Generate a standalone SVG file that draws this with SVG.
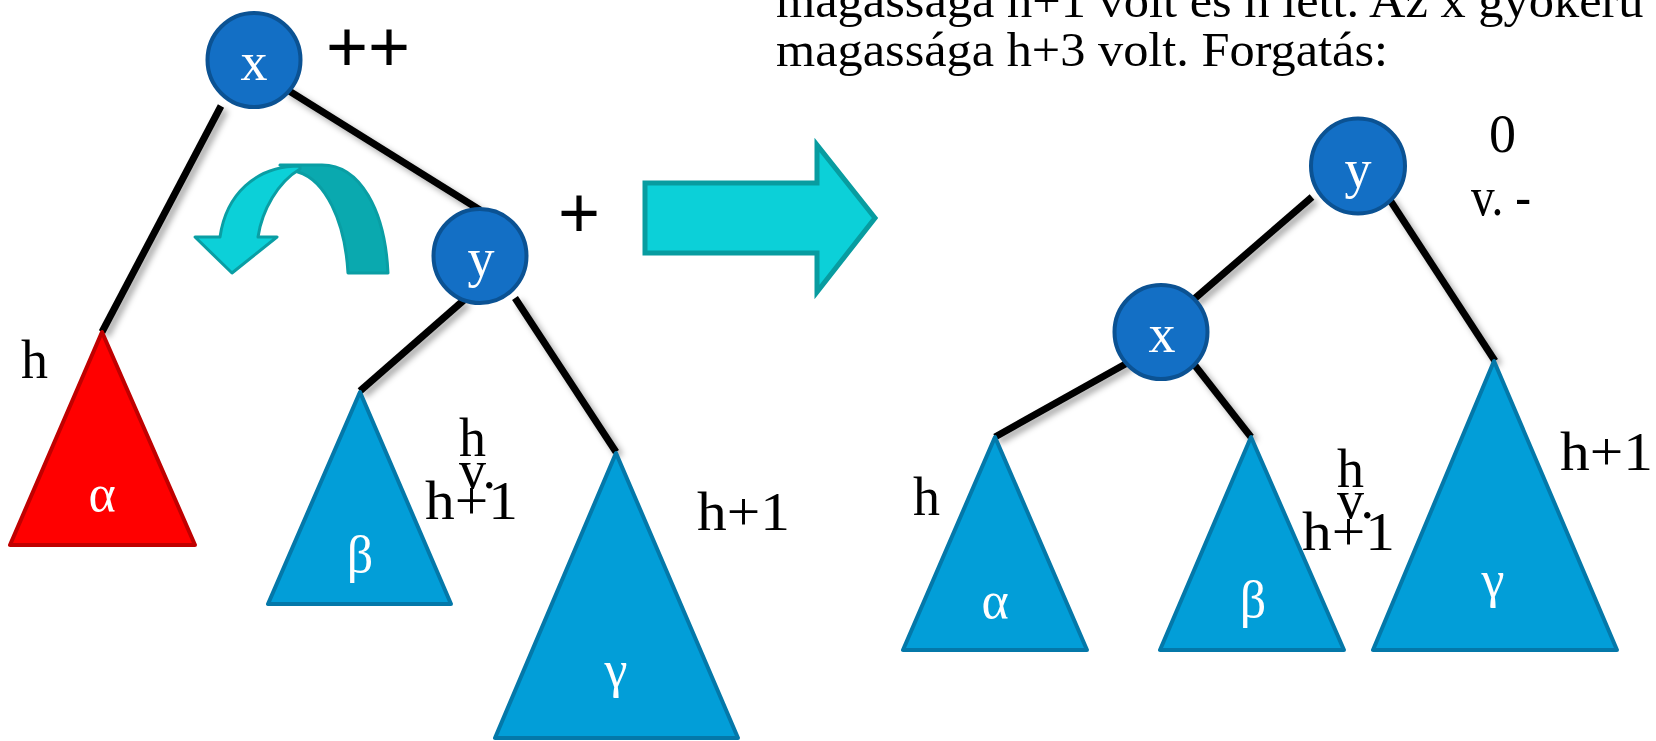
<svg xmlns="http://www.w3.org/2000/svg" width="1656" height="741" viewBox="0 0 1656 741">
<style>
.node{fill:#136FC5;stroke:#0B5293;stroke-width:4}
.ntxt{font-family:"Liberation Serif",serif;font-size:54px;fill:#fff;text-anchor:middle}
.gtxt{font-family:"Liberation Serif",serif;font-size:52px;fill:#fff;text-anchor:middle}
.tri{fill:#029ED8;stroke:#0478A9;stroke-width:4;stroke-linejoin:round}
.red{fill:#FF0000;stroke:#C00000;stroke-width:4;stroke-linejoin:round}
.lbl{font-family:"Liberation Serif",serif;font-size:54px;fill:#000}
.sym{font-family:"Liberation Sans",sans-serif;font-size:72px;fill:#000}
.top{font-family:"Liberation Serif",serif;font-size:49px;fill:#000}
.edge{stroke:#000;stroke-width:7;fill:none}
</style>
<defs>
<filter id="sh" x="-20%" y="-20%" width="140%" height="140%">
<feDropShadow dx="4" dy="4" stdDeviation="3" flood-color="#000" flood-opacity="0.35"/>
</filter>
</defs>

<g id="title">
<text class="top" x="776" y="17" textLength="897" lengthAdjust="spacingAndGlyphs">magassága h+1 volt és h lett. Az x gyökerű r</text>
<text class="top" x="776" y="66" textLength="612" lengthAdjust="spacingAndGlyphs">magassága h+3 volt. Forgatás:</text>
</g>

<g id="connectors" filter="url(#sh)">
<line class="edge" x1="221" y1="106" x2="102" y2="332"/>
<line class="edge" x1="286" y1="89" x2="480" y2="210"/>
<line class="edge" x1="464" y1="300" x2="360" y2="391"/>
<line class="edge" x1="515" y1="298" x2="616" y2="452"/>
<line class="edge" x1="1312" y1="197" x2="1193" y2="300"/>
<line class="edge" x1="1388" y1="197" x2="1495" y2="361"/>
<line class="edge" x1="1129" y1="362" x2="995" y2="437"/>
<line class="edge" x1="1193" y1="363" x2="1251" y2="437"/>
</g>

<g id="rotate-arrow" stroke="#0A9EA4" stroke-width="3" stroke-linejoin="round">
<path d="M 280 165 L 322 165 C 360 165 385 210 388 273 L 348 273 C 345 220 325 180 298 172 Z" fill="#0AA9AF"/>
<path d="M 300 166 C 255 166 226 195 220 237 L 195 237 L 232 273 L 277 237 L 258 237 C 262 210 278 182 300 169 Z" fill="#0CD0D8"/>
</g>

<g id="big-arrow">
<polygon points="645,183 817,183 817,145 875,218 817,292 817,253 645,253" fill="#0CD0D8" stroke="#089CA0" stroke-width="5" stroke-linejoin="miter"/>
</g>

<g id="left-x">
<ellipse class="node" cx="254" cy="60" rx="46.5" ry="47"/>
<text class="ntxt" x="254" y="80">x</text>
<text class="sym" x="326" y="71">++</text>
</g>
<g id="left-y">
<ellipse class="node" cx="480" cy="256" rx="46.5" ry="47"/>
<text class="ntxt" x="481" y="276">y</text>
<text class="sym" x="558" y="237">+</text>
</g>
<g id="left-alpha">
<polygon class="red" points="102,332 10,545 195,545"/>
<text class="gtxt" x="102" y="511">α</text>
<text class="lbl" x="21" y="378">h</text>
</g>
<g id="left-beta">
<polygon class="tri" points="360,392 268,604 451,604"/>
<text class="gtxt" x="360" y="572">β</text>
<text class="lbl" x="459" y="456">h</text>
<text class="lbl" x="459" y="488">v.</text>
<text class="lbl" x="425" y="519" textLength="93" lengthAdjust="spacingAndGlyphs">h+1</text>
</g>
<g id="left-gamma">
<polygon class="tri" points="616,453 495,738 738,738"/>
<text class="gtxt" x="616" y="687">γ</text>
<text class="lbl" x="697" y="530" textLength="93" lengthAdjust="spacingAndGlyphs">h+1</text>
</g>

<g id="right-y">
<ellipse class="node" cx="1358" cy="166" rx="47" ry="47.5"/>
<text class="ntxt" x="1358" y="187">y</text>
<text class="lbl" x="1489" y="152">0</text>
<text class="lbl" x="1471" y="215" textLength="60" lengthAdjust="spacingAndGlyphs">v. -</text>
</g>
<g id="right-x">
<ellipse class="node" cx="1161" cy="332" rx="46.5" ry="47"/>
<text class="ntxt" x="1162" y="352">x</text>
</g>
<g id="right-alpha">
<polygon class="tri" points="995,437 903,650 1087,650"/>
<text class="gtxt" x="995" y="618">α</text>
<text class="lbl" x="913" y="515">h</text>
</g>
<g id="right-beta">
<polygon class="tri" points="1251,437 1160,650 1344,650"/>
<text class="gtxt" x="1253" y="617">β</text>
<text class="lbl" x="1337" y="487">h</text>
<text class="lbl" x="1337" y="518">v.</text>
<text class="lbl" x="1302" y="550" textLength="93" lengthAdjust="spacingAndGlyphs">h+1</text>
</g>
<g id="right-gamma">
<polygon class="tri" points="1494,361 1373,650 1617,650"/>
<text class="gtxt" x="1493" y="597">γ</text>
<text class="lbl" x="1560" y="470" textLength="93" lengthAdjust="spacingAndGlyphs">h+1</text>
</g>
</svg>
